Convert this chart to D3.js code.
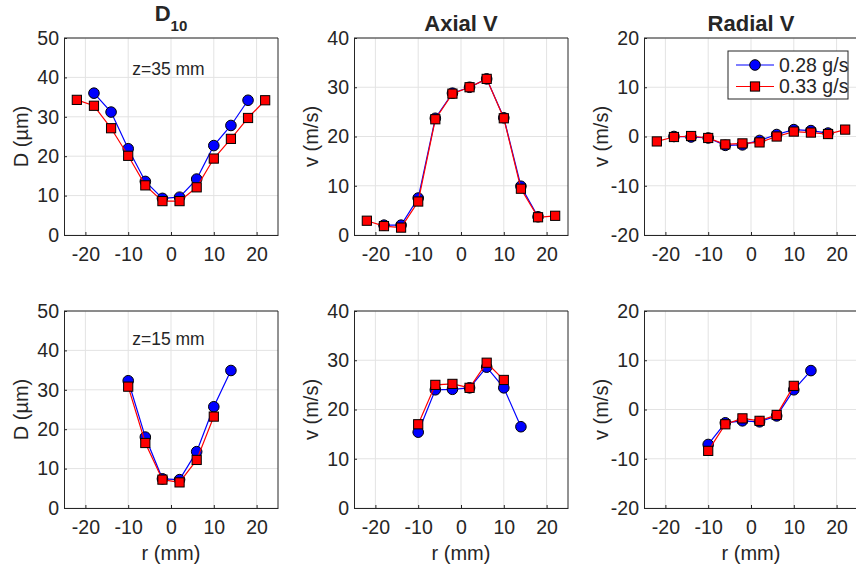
<!DOCTYPE html>
<html>
<head>
<meta charset="utf-8">
<script src="https://cdn.jsdelivr.net/npm/d3@7"></script>
<style>
  body { margin: 0; background: #fff; }
  text { font-family: "Liberation Sans", Arial, sans-serif; fill: #262626; }
</style>
</head>
<body>
<div id="chart"></div>
<script>
// radial positions (mm)
const rTop = [-22, -18, -14, -10, -6, -2, 2, 6, 10, 14, 18, 22];
const rBottom = [-10, -6, -2, 2, 6, 10, 14];

// z = 35 mm
const d10TopLow  = [null, 36.0, 31.2, 21.9, 13.6, 9.3, 9.6, 14.2, 22.7, 27.8, 34.2, null];
const d10TopHigh = [34.3, 32.8, 27.1, 20.1, 12.6, 8.6, 8.6, 12.1, 19.4, 24.4, 29.7, 34.2];
const axTopLow   = [null, 2.0, 2.0, 7.5, 23.7, 28.8, 30.0, 31.7, 23.8, 9.9, 3.7, null];
const axTopHigh  = [2.9, 1.8, 1.5, 6.8, 23.5, 28.7, 30.0, 31.7, 23.7, 9.4, 3.6, 3.9];
const radTopLow  = [null, 0.0, -0.1, -0.3, -1.8, -1.7, -0.8, 0.4, 1.4, 1.2, 0.7, null];
const radTopHigh = [-1.0, -0.1, 0.1, -0.3, -1.6, -1.4, -1.2, 0.0, 1.0, 0.8, 0.5, 1.4];

// z = 15 mm
const d10BotLow  = [32.3, 18.0, 7.4, 7.2, 14.3, 25.7, 34.9];
const d10BotHigh = [30.8, 16.5, 7.2, 6.5, 12.2, 23.2, null];
const axBotLow   = [15.4, 24.0, 24.1, 24.4, 28.6, 24.4, 16.5];
const axBotHigh  = [17.0, 25.0, 25.2, 24.4, 29.5, 26.0, null];
const radBotLow  = [-7.1, -2.7, -2.3, -2.5, -1.3, 4.0, 7.9];
const radBotHigh = [-8.4, -3.0, -1.8, -2.3, -1.1, 4.8, null];

const xTicks = [-20, -10, 0, 10, 20];
const seriesNames = ["0.28 g/s", "0.33 g/s"];

const W = 856, H = 570;
const colLeft = [64, 354, 644], rowTop = [38, 311];
const pw = 214, ph = 197;

const svg = d3.select("#chart").append("svg")
    .attr("width", W).attr("height", H)
    .style("background", "#fff");

const panels = [
  {row: 0, col: 0, r: rTop, low: d10TopLow, high: d10TopHigh, y: [0, 50], yt: [0, 10, 20, 30, 40, 50], ylab: "D (\u00b5m)", note: "z=35 mm"},
  {row: 0, col: 1, r: rTop, low: axTopLow, high: axTopHigh, y: [0, 40], yt: [0, 10, 20, 30, 40], ylab: "v (m/s)"},
  {row: 0, col: 2, r: rTop, low: radTopLow, high: radTopHigh, y: [-20, 20], yt: [-20, -10, 0, 10, 20], ylab: "v (m/s)", legend: true},
  {row: 1, col: 0, r: rBottom, low: d10BotLow, high: d10BotHigh, y: [0, 50], yt: [0, 10, 20, 30, 40, 50], ylab: "D (\u00b5m)", note: "z=15 mm", xlab: true},
  {row: 1, col: 1, r: rBottom, low: axBotLow, high: axBotHigh, y: [0, 40], yt: [0, 10, 20, 30, 40], ylab: "v (m/s)", xlab: true},
  {row: 1, col: 2, r: rBottom, low: radBotLow, high: radBotHigh, y: [-20, 20], yt: [-20, -10, 0, 10, 20], ylab: "v (m/s)", xlab: true}
];

function drawMarker(sel, kind) {
  if (kind === 0) {
    sel.append("circle").attr("r", 5.3)
      .attr("fill", "#0000ff").attr("stroke", "#000").attr("stroke-width", 1);
  } else {
    sel.append("rect").attr("x", -4.6).attr("y", -4.6).attr("width", 9.2).attr("height", 9.2)
      .attr("fill", "#ff0000").attr("stroke", "#000").attr("stroke-width", 1);
  }
}

panels.forEach(function (p) {
  const g = svg.append("g")
      .attr("transform", `translate(${colLeft[p.col]},${rowTop[p.row]})`);

  const x = d3.scaleLinear().domain([-25, 25]).range([0, pw]);
  const y = d3.scaleLinear().domain(p.y).range([ph, 0]);

  // grid
  g.append("g").selectAll("line").data(xTicks).join("line")
    .attr("x1", d => x(d)).attr("x2", d => x(d)).attr("y1", 0).attr("y2", ph)
    .attr("stroke", "#e3e3e3");
  g.append("g").selectAll("line").data(p.yt).join("line")
    .attr("x1", 0).attr("x2", pw).attr("y1", d => y(d)).attr("y2", d => y(d))
    .attr("stroke", "#e3e3e3");

  // axes (plain hyphen for negatives, like the original)
  const fmt = d => String(d);
  const xa = g.append("g").attr("transform", `translate(0,${ph})`)
    .call(d3.axisBottom(x).tickValues(xTicks).tickFormat(fmt).tickSizeInner(-3).tickSizeOuter(0).tickPadding(12.5));
  const ya = g.append("g")
    .call(d3.axisLeft(y).tickValues(p.yt).tickFormat(fmt).tickSizeInner(-3).tickSizeOuter(0).tickPadding(5));
  [xa, ya].forEach(function (a) {
    a.selectAll("path,line").attr("stroke", "#262626");
    a.selectAll("text").style("font-size", "19.5px").attr("fill", "#262626")
      .style("font-family", "'Liberation Sans', Arial, sans-serif");
  });
  g.append("line").attr("x1", 0).attr("x2", pw).attr("y1", 0).attr("y2", 0).attr("stroke", "#262626");
  g.append("line").attr("x1", pw).attr("x2", pw).attr("y1", 0).attr("y2", ph).attr("stroke", "#262626");

  // series
  [p.low, p.high].forEach(function (vals, k) {
    const pts = p.r.map((r, i) => ({r: r, v: vals[i]})).filter(d => d.v !== null);
    const line = d3.line().x(d => x(d.r)).y(d => y(d.v));
    g.append("path").datum(pts).attr("d", line)
      .attr("fill", "none").attr("stroke", k === 0 ? "#0000ff" : "#ff0000").attr("stroke-width", 1.2);
    g.append("g").selectAll("g").data(pts).join("g")
      .attr("transform", d => `translate(${x(d.r)},${y(d.v)})`)
      .each(function () { drawMarker(d3.select(this), k); });
  });

  // y label
  g.append("text")
    .attr("transform", `translate(-43,${ph / 2}) rotate(-90)`)
    .attr("text-anchor", "middle").attr("dy", "0.35em")
    .style("font-size", "20px").text(p.ylab);

  if (p.xlab) {
    g.append("text").attr("x", pw / 2).attr("y", ph + 52)
      .attr("text-anchor", "middle").style("font-size", "20px").text("r (mm)");
  }

  if (p.note) {
    g.append("text").attr("x", x(-0.6)).attr("y", p.row === 0 ? 37 : 34)
      .attr("text-anchor", "middle").style("font-size", "17.5px").text(p.note);
  }

  if (p.legend) {
    const lg = g.append("g").attr("transform", `translate(${728 - 644},${51 - 38})`);
    lg.append("rect").attr("width", 120).attr("height", 48)
      .attr("fill", "#fff").attr("stroke", "#262626");
    seriesNames.forEach(function (name, k) {
      const cy = 14 + k * 21.5;
      lg.append("line").attr("x1", 8).attr("x2", 46).attr("y1", cy).attr("y2", cy)
        .attr("stroke", k === 0 ? "#0000ff" : "#ff0000").attr("stroke-width", 1.2);
      drawMarker(lg.append("g").attr("transform", `translate(27,${cy})`), k);
      lg.append("text").attr("x", 51).attr("y", cy).attr("dy", "0.35em")
        .style("font-size", "19.5px").attr("fill", "#000").text(name);
    });
  }
});

// column titles
const titles = svg.append("g").style("font-weight", "bold").style("font-size", "22px");
const t1 = titles.append("text").attr("x", colLeft[0] + pw / 2).attr("y", 31).attr("text-anchor", "middle").attr("fill", "#000");
t1.append("tspan").attr("dy", "-10").text("D");
t1.append("tspan").attr("dy", "10").style("font-size", "15px").text("10");
titles.append("text").attr("x", colLeft[1] + pw / 2).attr("y", 31).attr("text-anchor", "middle").attr("fill", "#000").text("Axial V");
titles.append("text").attr("x", colLeft[2] + pw / 2).attr("y", 31).attr("text-anchor", "middle").attr("fill", "#000").text("Radial V");
</script>
</body>
</html>
